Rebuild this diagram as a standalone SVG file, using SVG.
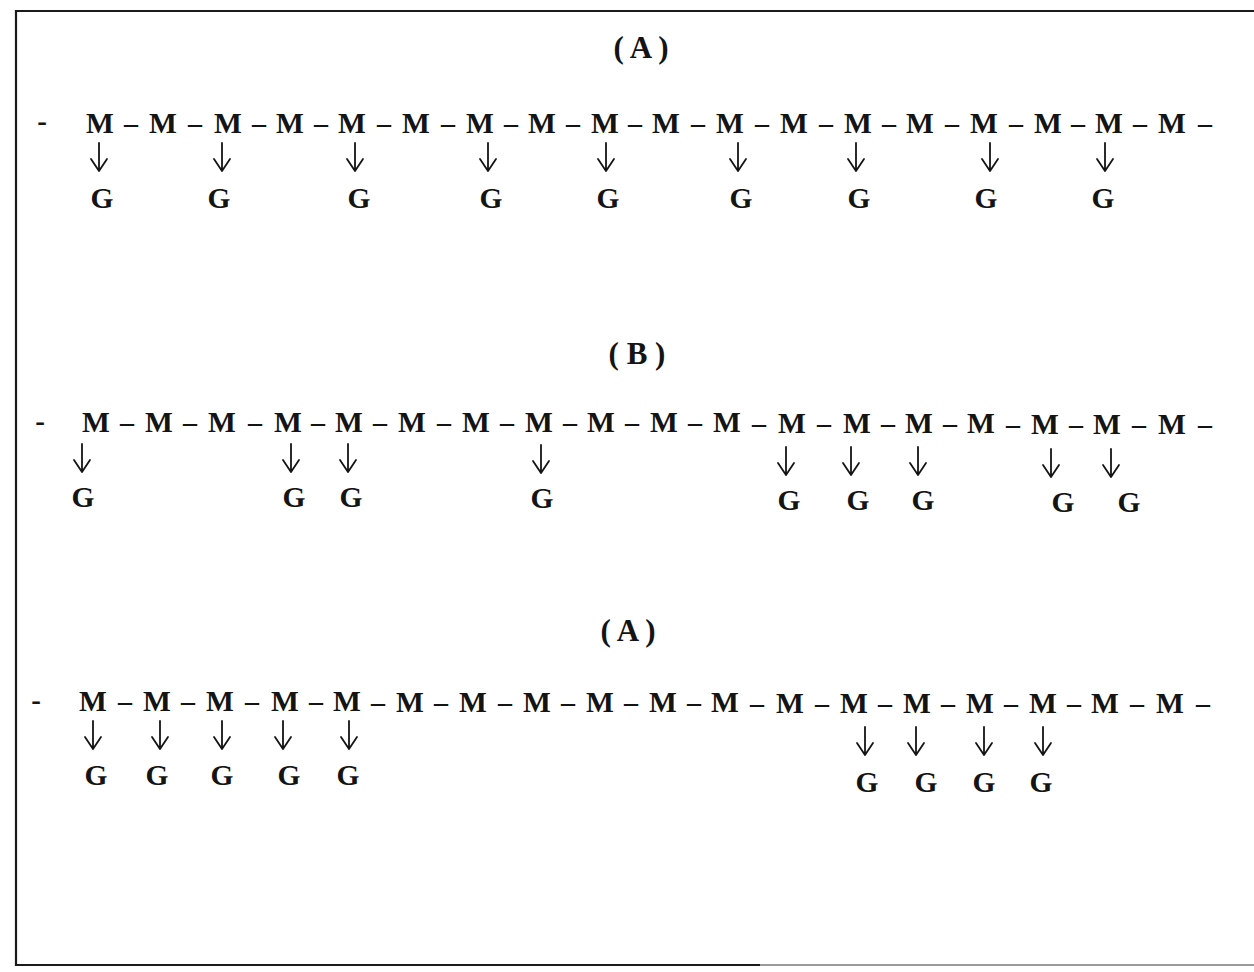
<svg xmlns="http://www.w3.org/2000/svg" width="1254" height="972" viewBox="0 0 1254 972">
<style>
.t{font-family:"Liberation Serif","Times New Roman",serif;font-weight:bold;font-size:31px;fill:#141414;text-anchor:middle}
.m{font-family:"Liberation Serif","Times New Roman",serif;font-weight:bold;font-size:29.5px;fill:#141414;text-anchor:middle}
.d{font-family:"Liberation Serif","Times New Roman",serif;font-weight:bold;font-size:28px;fill:#141414;text-anchor:middle}
.h{font-family:"Liberation Serif","Times New Roman",serif;font-weight:bold;font-size:29px;fill:#141414;text-anchor:middle}
.ar{fill:none;stroke:#141414;stroke-width:1.8;stroke-linecap:round;stroke-linejoin:round}
</style>
<defs>
<path id="arr" d="M0 0 V28 M-8 16 L0 28 L8 16"/>
</defs>
<rect width="1254" height="972" fill="#ffffff"/>
<g id="frame" fill="none" stroke-width="2.2">
<path d="M1254 11 H16 V965 H760" stroke="#1a1a1a"/>
<path d="M760 965 H1254" stroke="#9a9a9a"/>
</g>

<g id="chain1">
<text class="t" x="641" y="58">( A )</text>
<text class="h" x="42" y="131">-</text>
<g id="c1m1"><text class="m" x="100" y="133">M</text></g>
<g id="c1m2"><text class="m" x="163" y="133">M</text></g>
<g id="c1m3"><text class="m" x="228" y="133">M</text></g>
<g id="c1m4"><text class="m" x="290" y="133">M</text></g>
<g id="c1m5"><text class="m" x="352" y="133">M</text></g>
<g id="c1m6"><text class="m" x="416" y="133">M</text></g>
<g id="c1m7"><text class="m" x="480" y="133">M</text></g>
<g id="c1m8"><text class="m" x="542" y="133">M</text></g>
<g id="c1m9"><text class="m" x="605" y="133">M</text></g>
<g id="c1m10"><text class="m" x="666" y="133">M</text></g>
<g id="c1m11"><text class="m" x="730" y="133">M</text></g>
<g id="c1m12"><text class="m" x="794" y="133">M</text></g>
<g id="c1m13"><text class="m" x="858" y="133">M</text></g>
<g id="c1m14"><text class="m" x="920" y="133">M</text></g>
<g id="c1m15"><text class="m" x="984" y="133">M</text></g>
<g id="c1m16"><text class="m" x="1048" y="133">M</text></g>
<g id="c1m17"><text class="m" x="1109" y="133">M</text></g>
<g id="c1m18"><text class="m" x="1172" y="133">M</text></g>
<g id="c1g1"><text class="m" x="102" y="208">G</text></g>
<g id="c1g2"><text class="m" x="219" y="208">G</text></g>
<g id="c1g3"><text class="m" x="359" y="208">G</text></g>
<g id="c1g4"><text class="m" x="491" y="208">G</text></g>
<g id="c1g5"><text class="m" x="608" y="208">G</text></g>
<g id="c1g6"><text class="m" x="741" y="208">G</text></g>
<g id="c1g7"><text class="m" x="859" y="208">G</text></g>
<g id="c1g8"><text class="m" x="986" y="208">G</text></g>
<g id="c1g9"><text class="m" x="1103" y="208">G</text></g>
</g>

<g id="chain2">
<text class="t" x="637" y="364">( B )</text>
<text class="h" x="40" y="431">-</text>
<g id="c2m1"><text class="m" x="96" y="432">M</text></g>
<g id="c2m2"><text class="m" x="159" y="432">M</text></g>
<g id="c2m3"><text class="m" x="222" y="432">M</text></g>
<g id="c2m4"><text class="m" x="288" y="432">M</text></g>
<g id="c2m5"><text class="m" x="349" y="432">M</text></g>
<g id="c2m6"><text class="m" x="412" y="432">M</text></g>
<g id="c2m7"><text class="m" x="476" y="432">M</text></g>
<g id="c2m8"><text class="m" x="539" y="432">M</text></g>
<g id="c2m9"><text class="m" x="601" y="432">M</text></g>
<g id="c2m10"><text class="m" x="664" y="432">M</text></g>
<g id="c2m11"><text class="m" x="727" y="432">M</text></g>
<g id="c2m12"><text class="m" x="792" y="433">M</text></g>
<g id="c2m13"><text class="m" x="857" y="433">M</text></g>
<g id="c2m14"><text class="m" x="919" y="433">M</text></g>
<g id="c2m15"><text class="m" x="981" y="433">M</text></g>
<g id="c2m16"><text class="m" x="1045" y="434">M</text></g>
<g id="c2m17"><text class="m" x="1107" y="434">M</text></g>
<g id="c2m18"><text class="m" x="1172" y="434">M</text></g>
<g id="c2g1"><text class="m" x="83" y="507">G</text></g>
<g id="c2g2"><text class="m" x="294" y="507">G</text></g>
<g id="c2g3"><text class="m" x="351" y="507">G</text></g>
<g id="c2g4"><text class="m" x="542" y="508">G</text></g>
<g id="c2g5"><text class="m" x="789" y="510">G</text></g>
<g id="c2g6"><text class="m" x="858" y="510">G</text></g>
<g id="c2g7"><text class="m" x="923" y="510">G</text></g>
<g id="c2g8"><text class="m" x="1063" y="512">G</text></g>
<g id="c2g9"><text class="m" x="1129" y="512">G</text></g>
</g>

<g id="chain3">
<text class="t" x="628" y="641">( A )</text>
<text class="h" x="36" y="710">-</text>
<g id="c3m1"><text class="m" x="93" y="711">M</text></g>
<g id="c3m2"><text class="m" x="157" y="711">M</text></g>
<g id="c3m3"><text class="m" x="220" y="711">M</text></g>
<g id="c3m4"><text class="m" x="285" y="711">M</text></g>
<g id="c3m5"><text class="m" x="347" y="711">M</text></g>
<g id="c3m6"><text class="m" x="410" y="712">M</text></g>
<g id="c3m7"><text class="m" x="473" y="712">M</text></g>
<g id="c3m8"><text class="m" x="537" y="712">M</text></g>
<g id="c3m9"><text class="m" x="600" y="712">M</text></g>
<g id="c3m10"><text class="m" x="663" y="712">M</text></g>
<g id="c3m11"><text class="m" x="725" y="712">M</text></g>
<g id="c3m12"><text class="m" x="790" y="713">M</text></g>
<g id="c3m13"><text class="m" x="854" y="713">M</text></g>
<g id="c3m14"><text class="m" x="917" y="713">M</text></g>
<g id="c3m15"><text class="m" x="980" y="713">M</text></g>
<g id="c3m16"><text class="m" x="1043" y="713">M</text></g>
<g id="c3m17"><text class="m" x="1105" y="713">M</text></g>
<g id="c3m18"><text class="m" x="1170" y="713">M</text></g>
<g id="c3g1"><text class="m" x="96" y="785">G</text></g>
<g id="c3g2"><text class="m" x="157" y="785">G</text></g>
<g id="c3g3"><text class="m" x="222" y="785">G</text></g>
<g id="c3g4"><text class="m" x="289" y="785">G</text></g>
<g id="c3g5"><text class="m" x="348" y="785">G</text></g>
<g id="c3g6"><text class="m" x="867" y="792">G</text></g>
<g id="c3g7"><text class="m" x="926" y="792">G</text></g>
<g id="c3g8"><text class="m" x="984" y="792">G</text></g>
<g id="c3g9"><text class="m" x="1041" y="792">G</text></g>
</g>

<g id="connectors">
<g id="bonds">
<text class="d" x="131" y="132">–</text><text class="d" x="195" y="132">–</text><text class="d" x="259" y="132">–</text><text class="d" x="321" y="132">–</text><text class="d" x="384" y="132">–</text><text class="d" x="448" y="132">–</text><text class="d" x="511" y="132">–</text><text class="d" x="573" y="132">–</text><text class="d" x="635" y="132">–</text><text class="d" x="698" y="132">–</text><text class="d" x="762" y="132">–</text><text class="d" x="826" y="132">–</text><text class="d" x="889" y="132">–</text><text class="d" x="952" y="132">–</text><text class="d" x="1016" y="132">–</text><text class="d" x="1078" y="132">–</text><text class="d" x="1140" y="132">–</text><text class="d" x="1205" y="132">–</text>
<text class="d" x="127" y="431">–</text><text class="d" x="190" y="431">–</text><text class="d" x="255" y="431">–</text><text class="d" x="318" y="431">–</text><text class="d" x="380" y="431">–</text><text class="d" x="444" y="431">–</text><text class="d" x="507" y="431">–</text><text class="d" x="570" y="431">–</text><text class="d" x="632" y="431">–</text><text class="d" x="695" y="431">–</text><text class="d" x="759" y="432">–</text><text class="d" x="824" y="432">–</text><text class="d" x="888" y="432">–</text><text class="d" x="950" y="432">–</text><text class="d" x="1013" y="433">–</text><text class="d" x="1076" y="433">–</text><text class="d" x="1139" y="433">–</text><text class="d" x="1205" y="433">–</text>
<text class="d" x="125" y="710">–</text><text class="d" x="188" y="710">–</text><text class="d" x="252" y="710">–</text><text class="d" x="316" y="710">–</text><text class="d" x="378" y="711">–</text><text class="d" x="441" y="711">–</text><text class="d" x="505" y="711">–</text><text class="d" x="568" y="711">–</text><text class="d" x="631" y="711">–</text><text class="d" x="694" y="711">–</text><text class="d" x="757" y="712">–</text><text class="d" x="822" y="712">–</text><text class="d" x="885" y="712">–</text><text class="d" x="948" y="712">–</text><text class="d" x="1011" y="712">–</text><text class="d" x="1074" y="712">–</text><text class="d" x="1137" y="712">–</text><text class="d" x="1203" y="712">–</text>
</g>
<g id="arrows" class="ar">
<use href="#arr" x="99" y="143"/><use href="#arr" x="222" y="143"/><use href="#arr" x="355" y="143"/><use href="#arr" x="488" y="143"/><use href="#arr" x="606" y="143"/><use href="#arr" x="738" y="143"/><use href="#arr" x="856" y="143"/><use href="#arr" x="990" y="143"/><use href="#arr" x="1105" y="143"/>
<use href="#arr" x="82" y="444"/><use href="#arr" x="291" y="444"/><use href="#arr" x="348" y="444"/><use href="#arr" x="541" y="445"/><use href="#arr" x="786" y="447"/><use href="#arr" x="851" y="447"/><use href="#arr" x="918" y="447"/><use href="#arr" x="1051" y="449"/><use href="#arr" x="1111" y="449"/>
<use href="#arr" x="93" y="721"/><use href="#arr" x="160" y="721"/><use href="#arr" x="222" y="721"/><use href="#arr" x="283" y="721"/><use href="#arr" x="349" y="721"/>
<use href="#arr" x="865" y="727"/><use href="#arr" x="916" y="727"/><use href="#arr" x="984" y="727"/><use href="#arr" x="1043" y="727"/>
</g>
</g>
</svg>
